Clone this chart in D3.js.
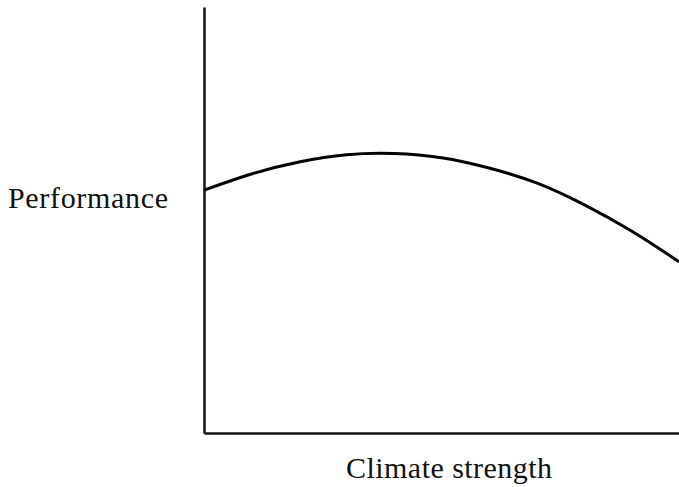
<!DOCTYPE html>
<html>
<head>
<meta charset="utf-8">
<script src="https://cdn.jsdelivr.net/npm/d3@7"></script>
<style>
html,body{margin:0;padding:0;background:#fff;}
svg{display:block;}
.lbl{font-family:"Liberation Serif","DejaVu Serif","Times New Roman",serif;font-size:30px;fill:#111;}
</style>
</head>
<body>
<svg id="chart" width="679" height="487"></svg>
<script>
// Data (climate strength on 0–10, performance on 0–10)
const climateStrength = [0, 1, 2, 3, 4, 5, 6, 7, 8, 9, 10];
const performance     = [5.70, 6.08, 6.36, 6.53, 6.56, 6.46, 6.22, 5.87, 5.36, 4.74, 4.02];
const xLabel = "Climate strength";
const yLabel = "Performance";

const svg = d3.select("#chart");
const x = d3.scaleLinear().domain([0, 10]).range([204, 679]);
const y = d3.scaleLinear().domain([0, 10]).range([433, 7]);

// axes (no ticks)
const gx = svg.append("g").attr("transform", "translate(0,433)")
  .call(d3.axisBottom(x).ticks(0).tickSizeOuter(0));
const gy = svg.append("g").attr("transform", "translate(204,0)")
  .call(d3.axisLeft(y).ticks(0).tickSizeOuter(0));
[gx, gy].forEach(g => {
  g.select(".domain").attr("stroke", "#111").attr("stroke-width", 2.5);
  g.selectAll(".tick").remove();
});

// curve
const pts = climateStrength.map((c, i) => [c, performance[i]]);
svg.append("path")
  .datum(pts)
  .attr("fill", "none")
  .attr("stroke", "#000")
  .attr("stroke-width", 3)
  .attr("d", d3.line().x(d => x(d[0])).y(d => y(d[1])).curve(d3.curveNatural));

// labels
svg.append("text")
  .attr("class", "lbl")
  .attr("x", 8).attr("y", 208)
  .attr("textLength", 160)
  .attr("lengthAdjust", "spacing")
  .text(yLabel);

svg.append("text")
  .attr("class", "lbl")
  .attr("x", 346).attr("y", 478)
  .attr("textLength", 206)
  .attr("lengthAdjust", "spacing")
  .text(xLabel);
</script>
</body>
</html>
